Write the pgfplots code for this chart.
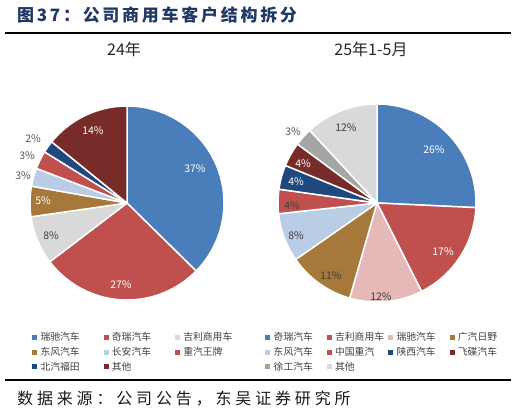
\documentclass[border=0pt]{standalone}
\usepackage{pgfplots}
\pgfplotsset{compat=1.18}
\usepackage{pgfplotstable}
\usepackage{fontspec}
\setmainfont{Noto Sans CJK SC}
\newfontfamily\titlefont[LetterSpace=16]{Noto Sans CJK SC}
\newfontfamily\srcfont[LetterSpace=24]{Noto Sans CJK SC}

\definecolor{cBlue}{RGB}{74,126,187}
\definecolor{cRed}{RGB}{192,80,77}
\definecolor{cLGray}{RGB}{217,217,217}
\definecolor{cBrown}{RGB}{166,120,58}
\definecolor{cLBlue}{RGB}{185,205,229}
\definecolor{cDBlue}{RGB}{31,73,125}
\definecolor{cDRed}{RGB}{119,44,42}
\definecolor{cPink}{RGB}{230,185,184}
\definecolor{cGray}{RGB}{165,165,165}
\definecolor{cTxt}{RGB}{64,64,64}
\definecolor{cOut}{RGB}{89,89,89}
\definecolor{cTitle}{RGB}{31,56,100}

% 24年
\pgfplotstableread{
val col tcol lx ly
37 cBlue white 68 34
27 cRed white -6 -82
8 cLGray cTxt -76 -33
5 cBrown white -84 2
3 cLBlue cOut -104 27
3 cRed cOut -100 47
2 cDBlue cOut -94 64
14 cDRed white -34 72
}\tblA

% 25年1-5月
\pgfplotstableread{
val col tcol lx ly
26 cBlue white 57 53
17 cRed white 66 -49
12 cPink cTxt 4 -94
11 cBrown cTxt -46 -73
8 cLBlue cTxt -81 -33
4 cRed cTxt -85 -3
4 cDBlue white -81 21
4 cDRed white -74 39
3 cGray cOut -84 71
12 cLGray cTxt -31 75
}\tblB

% precompute slice angles from the table values
\newcommand\preppie[2]{% #1 name, #2 table
  \pgfplotstablegetrowsof{#2}%
  \pgfmathtruncatemacro\pienrows{\pgfplotsretval-1}%
  \expandafter\xdef\csname pie#1n\endcsname{\pienrows}%
  \def\pietot{0}%
  \pgfplotsforeachungrouped \pieI in {0,...,\pienrows}{%
    \pgfplotstablegetelem{\pieI}{val}\of{#2}%
    \pgfmathsetmacro\pietot{\pietot+\pgfplotsretval}%
  }%
  \def\piecum{0}%
  \pgfplotsforeachungrouped \pieI in {0,...,\pienrows}{%
    \pgfplotstablegetelem{\pieI}{val}\of{#2}\let\pieval\pgfplotsretval
    \expandafter\xdef\csname pie#1val\pieI\endcsname{\pieval}%
    \pgfmathsetmacro\piesa{90-\piecum/\pietot*360}%
    \pgfmathsetmacro\piecum{\piecum+\pieval}%
    \pgfmathsetmacro\pieea{90-\piecum/\pietot*360}%
    \expandafter\xdef\csname pie#1sa\pieI\endcsname{\piesa}%
    \expandafter\xdef\csname pie#1ea\pieI\endcsname{\pieea}%
    \pgfplotstablegetelem{\pieI}{col}\of{#2}%
    \expandafter\xdef\csname pie#1col\pieI\endcsname{\pgfplotsretval}%
    \pgfplotstablegetelem{\pieI}{tcol}\of{#2}%
    \expandafter\xdef\csname pie#1tc\pieI\endcsname{\pgfplotsretval}%
    \pgfplotstablegetelem{\pieI}{lx}\of{#2}%
    \expandafter\xdef\csname pie#1lx\pieI\endcsname{\pgfplotsretval}%
    \pgfplotstablegetelem{\pieI}{ly}\of{#2}%
    \expandafter\xdef\csname pie#1ly\pieI\endcsname{\pgfplotsretval}%
  }%
}
\preppie{A}{\tblA}
\preppie{B}{\tblB}

\newcommand\drawpie[2]{% #1 name, #2 radius
  \edef\pienrows{\csname pie#1n\endcsname}%
  \pgfplotsforeachungrouped \pieI in {0,...,\pienrows}{%
    \edef\piesa{\csname pie#1sa\pieI\endcsname}%
    \edef\pieea{\csname pie#1ea\pieI\endcsname}%
    \edef\piecol{\csname pie#1col\pieI\endcsname}%
    \filldraw[fill=\piecol, draw=white, line width=1.5pt, line join=round]
      (axis cs:0,0) -- ++(\piesa:#2) arc[start angle=\piesa, end angle=\pieea, radius=#2] -- cycle;
  }%
  \pgfplotsforeachungrouped \pieI in {0,...,\pienrows}{%
    \edef\pieval{\csname pie#1val\pieI\endcsname}%
    \edef\pietc{\csname pie#1tc\pieI\endcsname}%
    \edef\pielx{\csname pie#1lx\pieI\endcsname}%
    \edef\piely{\csname pie#1ly\pieI\endcsname}%
    \node[text=\pietc, font=\fontsize{10.5}{12}\selectfont, inner sep=0pt]
      at ([shift={(\pielx pt,\piely pt)}]axis cs:0,0) {\pieval\%};
  }%
}

\pgfplotsset{
  sqleg/.style={legend image code/.code={\fill[#1] (0pt,-2pt) rectangle (4pt,2pt);}},
  pieaxis/.style={anchor=center, scale only axis, xmin=-1, xmax=1, ymin=-1, ymax=1,
    hide axis, clip=false, legend cell align=left,
    legend style={anchor=north west, draw=none, fill=none, inner sep=0pt,
      font=\fontsize{9.8}{11}\selectfont, text=cTxt, row sep=3pt,
      nodes={inner sep=1pt}},
    /tikz/every odd column/.append style={column sep=3pt}},
}

\begin{document}
\begin{tikzpicture}
\path[use as bounding box] (0pt,0pt) rectangle (516pt,414pt);

% title and rules
\node[anchor=west, text=cTitle, font=\titlefont\bfseries\fontsize{17}{20}\selectfont, inner sep=0pt]
  at (17pt,399pt) {图37：公司商用车客户结构拆分};
\draw[line width=1.5pt] (5pt,381pt) -- (511pt,381pt);
\draw[line width=1.5pt] (5pt,34pt) -- (511pt,34pt);
\node[anchor=west, font=\srcfont\fontsize{16}{18}\selectfont, text=black!90, inner sep=0pt]
  at (17pt,15pt) {数据来源：公司公告，东吴证券研究所};

% subtitles
\node[font=\fontsize{16}{18}\selectfont, text=black!85] at (124pt,365pt) {24年};
\node[font=\fontsize{16}{18}\selectfont, text=black!85] at (371pt,365pt) {25年1-5月};

% left pie
\begin{axis}[pieaxis, at={(127pt,211pt)}, width=194pt, height=194pt,
  legend columns=3,
  legend style={at={(axis cs:-0.98,-1.32)}}]
\addlegendimage{sqleg=cBlue}\addlegendentry{\makebox[62pt][l]{瑞驰汽车}}
\addlegendimage{sqleg=cRed}\addlegendentry{\makebox[62pt][l]{奇瑞汽车}}
\addlegendimage{sqleg=cLGray}\addlegendentry{\makebox[62pt][l]{吉利商用车}}
\addlegendimage{sqleg=cBrown}\addlegendentry{\makebox[62pt][l]{东风汽车}}
\addlegendimage{sqleg=cLBlue}\addlegendentry{\makebox[62pt][l]{长安汽车}}
\addlegendimage{sqleg=cRed}\addlegendentry{\makebox[62pt][l]{重汽王牌}}
\addlegendimage{sqleg=cDBlue}\addlegendentry{\makebox[62pt][l]{北汽福田}}
\addlegendimage{sqleg=cDRed}\addlegendentry{\makebox[62pt][l]{其他}}
\pgfplotsextra{\pgfkeys{/pgf/fpu=false}\drawpie{A}{97pt}}
\end{axis}

% right pie
\begin{axis}[pieaxis, at={(377pt,211pt)}, width=198pt, height=198pt,
  legend columns=4,
  legend style={at={(axis cs:-1.13,-1.293)}}]
\addlegendimage{sqleg=cBlue}\addlegendentry{\makebox[52pt][l]{奇瑞汽车}}
\addlegendimage{sqleg=cRed}\addlegendentry{\makebox[52pt][l]{吉利商用车}}
\addlegendimage{sqleg=cPink}\addlegendentry{\makebox[52pt][l]{瑞驰汽车}}
\addlegendimage{sqleg=cBrown}\addlegendentry{\makebox[52pt][l]{广汽日野}}
\addlegendimage{sqleg=cLBlue}\addlegendentry{\makebox[52pt][l]{东风汽车}}
\addlegendimage{sqleg=cRed}\addlegendentry{\makebox[52pt][l]{中国重汽}}
\addlegendimage{sqleg=cDBlue}\addlegendentry{\makebox[52pt][l]{陕西汽车}}
\addlegendimage{sqleg=cDRed}\addlegendentry{\makebox[52pt][l]{飞碟汽车}}
\addlegendimage{sqleg=cGray}\addlegendentry{\makebox[52pt][l]{徐工汽车}}
\addlegendimage{sqleg=cLGray}\addlegendentry{\makebox[52pt][l]{其他}}
\pgfplotsextra{\pgfkeys{/pgf/fpu=false}\drawpie{B}{99pt}}
\end{axis}
\end{tikzpicture}
\end{document}
